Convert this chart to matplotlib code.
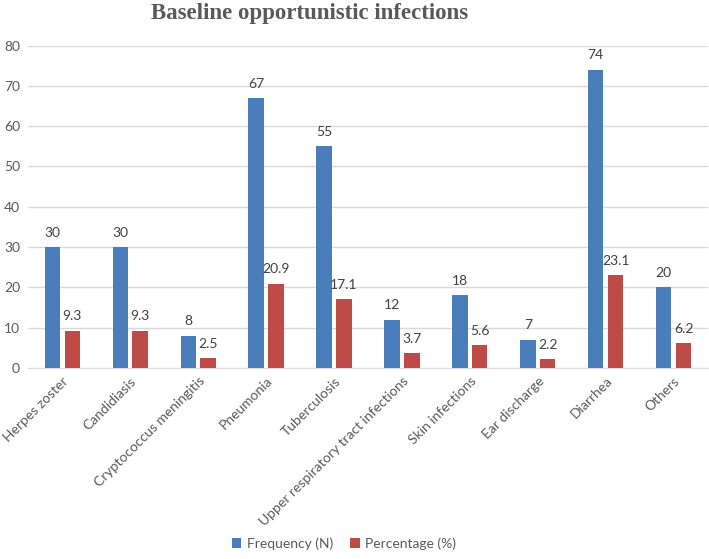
import numpy as np
import matplotlib
matplotlib.use('Agg')
import matplotlib.pyplot as plt

categories = ['Herpes zoster', 'Candidiasis', 'Cryptococcus meningitis', 'Pneumonia',
              'Tuberculosis', 'Upper respiratory tract infections', 'Skin infections',
              'Ear discharge', 'Diarrhea', 'Others']
frequency = [30, 30, 8, 67, 55, 12, 18, 7, 74, 20]
percentage = [9.3, 9.3, 2.5, 20.9, 17.1, 3.7, 5.6, 2.2, 23.1, 6.2]
y_ticks = [0, 10, 20, 30, 40, 50, 60, 70, 80]

plt.rcParams['font.family'] = ['Lato', 'DejaVu Sans']

fig = plt.figure(figsize=(7.09, 5.59), dpi=100)
ax = fig.add_axes([0.04, 0.3417, 0.958, 0.5769])

x = np.arange(len(categories))
w = 0.227
off = 0.146
blue = '#4A7EBB'
red = '#BE4B48'

b1 = ax.bar(x - off, frequency, w, color=blue, label='Frequency (N)', zorder=3)
b2 = ax.bar(x + off, percentage, w, color=red, label='Percentage (%)', zorder=3)

# value labels above bars
for rect, v in zip(b1, frequency):
    ax.annotate(f'{v}', (rect.get_x() + rect.get_width() / 2, v), xytext=(0, 6),
                textcoords='offset points', ha='center', va='bottom', fontsize=10, color='#404040')
for rect, v in zip(b2, percentage):
    ax.annotate(f'{v}', (rect.get_x() + rect.get_width() / 2, v), xytext=(0, 6),
                textcoords='offset points', ha='center', va='bottom', fontsize=10, color='#404040')

ax.set_xlim(-0.5, len(categories) - 0.5)
ax.set_ylim(0, 80)
ax.set_yticks(y_ticks)
ax.yaxis.grid(True, color='#D9D9D9', linewidth=1, zorder=0)
ax.set_axisbelow(True)
for s in ['top', 'right', 'left']:
    ax.spines[s].set_visible(False)
ax.spines['bottom'].set_color('#D9D9D9')
ax.tick_params(axis='y', length=0, pad=6, labelsize=10, labelcolor='#595959')
ax.tick_params(axis='x', length=0, pad=5, labelsize=10, labelcolor='#595959')
ax.set_xticks(x)
ax.set_xticklabels(categories, rotation=45, ha='right', rotation_mode='anchor')

fig.text(0.436, 0.975, 'Baseline opportunistic infections', ha='center', va='center',
         fontsize=16.5, fontweight='bold', color='#595959', family='Liberation Serif')

fig.legend(handles=[b1, b2], loc='center', bbox_to_anchor=(0.485, 0.027), ncol=2,
           frameon=False, fontsize=10, labelcolor='#595959', handlelength=0.7,
           handleheight=0.7, handletextpad=0.4, columnspacing=1.2)

fig.savefig('out.png', dpi=100)
